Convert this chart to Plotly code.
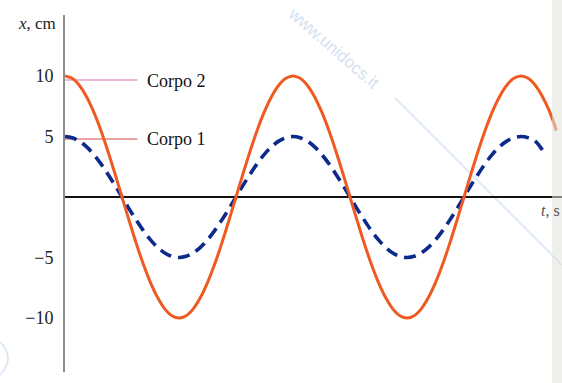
import plotly.graph_objects as go

# Time in periods (one full oscillation = 1), read every 1/32 of a period
t_vals = [i / 32 for i in range(65)]

# Displacement in cm, body 2 (amplitude 10)
corpo2_x = [10, 9.81, 9.24, 8.31, 7.07, 5.56, 3.83, 1.95,
            0, -1.95, -3.83, -5.56, -7.07, -8.31, -9.24, -9.81,
            -10, -9.81, -9.24, -8.31, -7.07, -5.56, -3.83, -1.95,
            0, 1.95, 3.83, 5.56, 7.07, 8.31, 9.24, 9.81,
            10, 9.81, 9.24, 8.31, 7.07, 5.56, 3.83, 1.95,
            0, -1.95, -3.83, -5.56, -7.07, -8.31, -9.24, -9.81,
            -10, -9.81, -9.24, -8.31, -7.07, -5.56, -3.83, -1.95,
            0, 1.95, 3.83, 5.56, 7.07, 8.31, 9.24, 9.81, 10]
# Displacement in cm, body 1 (amplitude 5)
corpo1_x = [5, 4.90, 4.62, 4.16, 3.54, 2.78, 1.91, 0.98,
            0, -0.98, -1.91, -2.78, -3.54, -4.16, -4.62, -4.90,
            -5, -4.90, -4.62, -4.16, -3.54, -2.78, -1.91, -0.98,
            0, 0.98, 1.91, 2.78, 3.54, 4.16, 4.62, 4.90,
            5, 4.90, 4.62, 4.16, 3.54, 2.78, 1.91, 0.98,
            0, -0.98, -1.91, -2.78, -3.54, -4.16, -4.62, -4.90,
            -5, -4.90, -4.62, -4.16, -3.54, -2.78, -1.91, -0.98,
            0, 0.98, 1.91, 2.78, 3.54, 4.16, 4.62, 4.90, 5]

# Where each trace stops at the right edge
corpo2_end = ([2.03125, 2.0625, 2.09375, 2.125, 2.155], [9.81, 9.24, 8.31, 7.07, 5.5])
corpo1_end = ([2.03125, 2.0625, 2.10], [4.90, 4.62, 3.7])

y_ticks = [-10, -5, 5, 10]
y_tick_text = ["\u221210", "\u22125", "5", "10"]

serif = "Liberation Serif"

fig = go.Figure()

fig.add_trace(go.Scatter(
    x=t_vals + corpo1_end[0], y=corpo1_x + corpo1_end[1],
    mode="lines", line=dict(color="#0c2a8c", width=3.6, dash="12px,7px",
                            shape="spline", smoothing=1.0),
    name="Corpo 1", showlegend=False, hoverinfo="skip"))

fig.add_trace(go.Scatter(
    x=t_vals + corpo2_end[0], y=corpo2_x + corpo2_end[1],
    mode="lines", line=dict(color="#ef5a22", width=3, shape="spline", smoothing=1.0),
    name="Corpo 2", showlegend=False, hoverinfo="skip"))

# leader lines from the axis to the body labels
fig.add_shape(type="line", x0=0, x1=0.318, y0=9.67, y1=9.67,
              line=dict(color="#e070b4", width=1), layer="below")
fig.add_shape(type="line", x0=0, x1=0.318, y0=4.79, y1=4.79,
              line=dict(color="#d4484a", width=1), layer="below")

# faint diagonal stroke and corner mark of the watermark
fig.add_shape(type="line", xref="paper", yref="paper",
              x0=(395 - 65) / 497, y0=(372 - 98) / 357,
              x1=1.0, y1=(372 - 265) / 357,
              line=dict(color="#d6e5f4", width=1.5), layer="below")
fig.add_shape(type="path", xref="paper", yref="paper",
              path="M %f,%f Q %f,%f %f,%f" % (
                  (0 - 65) / 497, (372 - 342) / 357,
                  (16 - 65) / 497, (372 - 358) / 357,
                  (0 - 65) / 497, (372 - 375) / 357),
              line=dict(color="#d6e5f4", width=1.5), layer="below")

# shaded page edge on the right
fig.add_shape(type="rect", xref="paper", yref="paper",
              x0=(552 - 65) / 497, x1=1.02, y0=-0.05, y1=1.05,
              fillcolor="rgba(226,225,218,0.55)", line=dict(width=0), layer="above")

fig.add_annotation(text="www.unidocs.it", xref="paper", yref="paper",
                   x=(334 - 65) / 497, y=(372 - 48) / 357,
                   xanchor="center", yanchor="middle",
                   showarrow=False, textangle=41,
                   font=dict(family="Liberation Sans", size=17, color="#d2e2f2"))

fig.add_annotation(text="<i>x</i>, cm", xref="paper", yref="paper",
                   x=(58 - 65) / 497, y=(372 - 23) / 357,
                   xanchor="right", yanchor="middle", showarrow=False,
                   font=dict(family=serif, size=17, color="#222"))
fig.add_annotation(text="Corpo 2", x=0.351, y=9.6, xanchor="left", yanchor="middle",
                   showarrow=False, font=dict(family=serif, size=18, color="#111"))
fig.add_annotation(text="Corpo 1", x=0.351, y=4.8, xanchor="left", yanchor="middle",
                   showarrow=False, font=dict(family=serif, size=18, color="#111"))
fig.add_annotation(text="<i>t</i>, s", x=(539 - 65) / 228, y=-1.1,
                   xanchor="left", yanchor="middle", showarrow=False,
                   font=dict(family=serif, size=16, color="#555"))

fig.update_layout(
    width=562, height=383,
    margin=dict(l=65, r=0, t=15, b=11),
    paper_bgcolor="white", plot_bgcolor="white",
    xaxis=dict(range=[0, 497 / 228], showgrid=False, zeroline=False,
               showline=False, showticklabels=False, ticks=""),
    yaxis=dict(range=[-14.46, 15.04], showgrid=False,
               zeroline=True, zerolinecolor="#111", zerolinewidth=1.5,
               showline=True, linecolor="#8c8c8c", linewidth=2,
               tickvals=y_ticks, ticktext=y_tick_text, ticks="",
               ticklabelstandoff=6,
               tickfont=dict(family=serif, size=18, color="#222")),
)

fig.write_html("out.html")
